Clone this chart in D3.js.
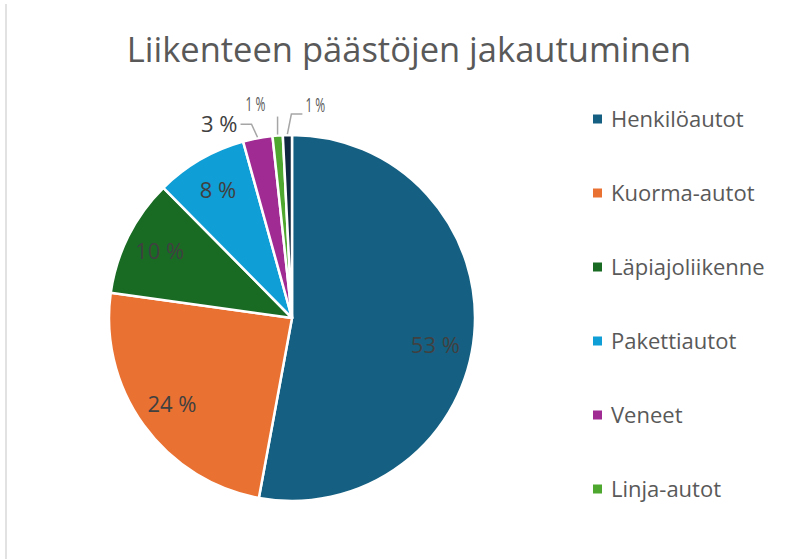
<!DOCTYPE html>
<html><head><meta charset="utf-8">
<script src="https://cdn.jsdelivr.net/npm/d3@7"></script>
<style>
html,body{margin:0;padding:0;background:#fff;}
svg{display:block;}
text{font-family:"Open Sans","Noto Sans",sans-serif;}
</style></head>
<body>
<svg id="chart" width="805" height="559"></svg>
<script>
// ---- data ----
const categories = ["Henkilöautot","Kuorma-autot","Läpiajoliikenne","Pakettiautot","Veneet","Linja-autot","Muut"];
const values = [52.9, 24.3, 10.4, 8.1, 2.6, 0.9, 0.8];
const labels = ["53 %","24 %","10 %","8 %","3 %","1 %","1 %"];
const colors = ["#156082","#E97132","#196B24","#0F9ED5","#A02B93","#4EA72E","#0E2841"];
const legendCount = 6; // legend is clipped by the chart area after 6 items
const title = "Liikenteen päästöjen jakautuminen";

// ---- layout ----
const W = 805, H = 559;
const cx = 292, cy = 318, R = 183;
const svg = d3.select("#chart");

svg.append("line").attr("x1",6).attr("x2",6).attr("y1",4).attr("y2",H)
  .attr("stroke","#d9d9d9").attr("stroke-width",1.5);

svg.append("text").attr("x",409).attr("y",62).attr("text-anchor","middle")
  .attr("font-size",34.5).attr("fill","#595959").text(title);

const data = categories.map((c,i)=>({name:c,value:values[i],label:labels[i],color:colors[i]}));
const pie = d3.pie().sort(null).value(d=>d.value);
const arcs = pie(data);
const arc = d3.arc().innerRadius(0).outerRadius(R);
const g = svg.append("g").attr("transform",`translate(${cx},${cy})`);
g.selectAll("path").data(arcs).join("path")
  .attr("d",arc).attr("fill",d=>d.data.color)
  .attr("stroke","#fff").attr("stroke-width",2.5).attr("stroke-linejoin","round");

// inside labels (small nudges to mimic best-fit placement)
const inNudge = [[-4,14],[0,0],[0,0],[0,0]];
const labelArc = d3.arc().innerRadius(148).outerRadius(148);
g.selectAll("text.in").data(arcs.filter(d=>d.data.value>=5)).join("text")
  .attr("class","in")
  .attr("transform",(d,i)=>{const c=labelArc.centroid(d);return `translate(${c[0]+inNudge[i][0]},${c[1]+inNudge[i][1]})`;})
  .attr("text-anchor","middle").attr("dy","0.35em")
  .attr("font-size",22).attr("fill","#404040").text(d=>d.data.label);

// outside labels with leader lines
const leaderCfg = [
  null,null,null,null,
  {elbow:[-6,-13], end:[-17,-13], text:[-20,-13], anchor:"end", size:22, narrow:false},
  {elbow:[0,-18], end:[0,-18], text:[-22,-31], anchor:"middle", size:20, narrow:true},
  {elbow:[4,-20], end:[15,-20], text:[18,-29], anchor:"start", size:20, narrow:true}
];
const edgeArc = d3.arc().innerRadius(R+1).outerRadius(R+1);
arcs.forEach((d,i)=>{
  const cfg = leaderCfg[i]; if(!cfg) return;
  const p = edgeArc.centroid(d);
  const e = [p[0]+cfg.elbow[0], p[1]+cfg.elbow[1]];
  const f = [p[0]+cfg.end[0], p[1]+cfg.end[1]];
  g.append("polyline").attr("points",[p,e,f].map(q=>q.join(",")).join(" "))
    .attr("fill","none").attr("stroke","#a6a6a6").attr("stroke-width",1.5);
  const tx = p[0]+cfg.text[0], ty = p[1]+cfg.text[1];
  const t = g.append("text").attr("text-anchor",cfg.anchor).attr("dy","0.35em")
    .attr("font-size",cfg.size).attr("fill", cfg.narrow?"#595959":"#404040").text(d.data.label);
  t.attr("transform", cfg.narrow ? `translate(${tx},${ty}) scale(0.6,1)` : `translate(${tx},${ty})`);
});

// legend
const legend = svg.append("g").attr("transform","translate(593,119)");
const li = legend.selectAll("g").data(data.slice(0,legendCount)).join("g")
  .attr("transform",(d,i)=>`translate(0,${i*74})`);
li.append("rect").attr("x",0).attr("y",-4.5).attr("width",9).attr("height",9).attr("fill",d=>d.color);
li.append("text").attr("x",18).attr("dy","0.35em").attr("font-size",22).attr("fill","#595959").text(d=>d.name);
</script>
</body></html>
